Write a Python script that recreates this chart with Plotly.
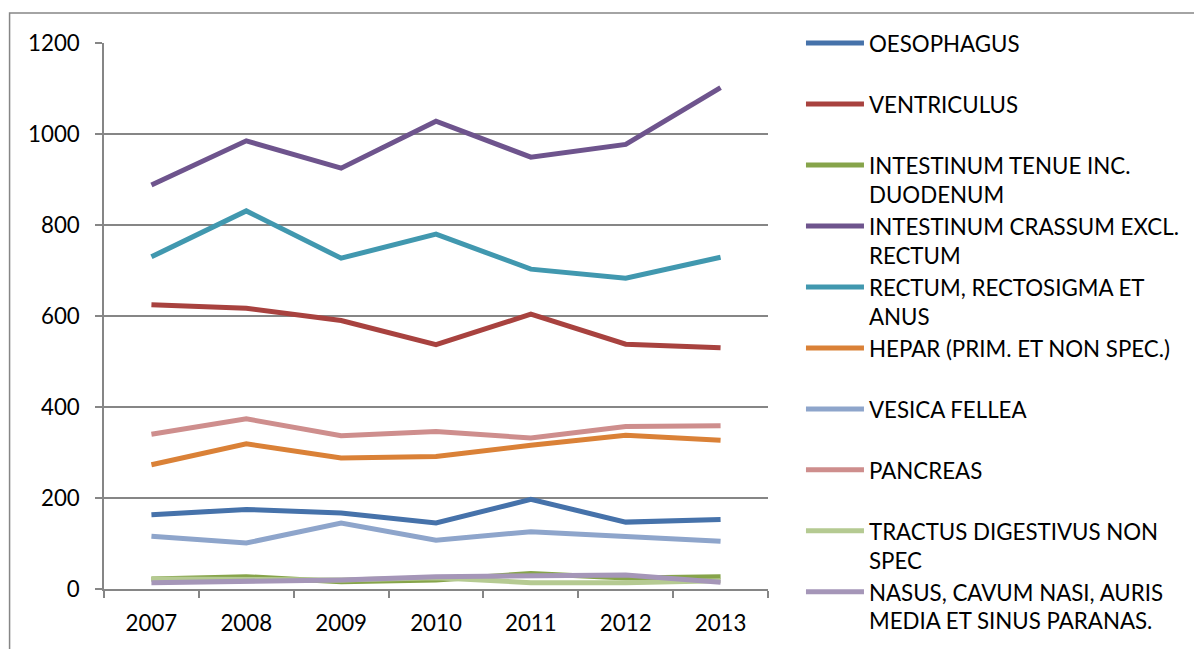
import plotly.graph_objects as go

years = ["2007", "2008", "2009", "2010", "2011", "2012", "2013"]

series_names = [
    "OESOPHAGUS",
    "VENTRICULUS",
    "INTESTINUM TENUE INC.<br>DUODENUM",
    "INTESTINUM CRASSUM EXCL.<br>RECTUM",
    "RECTUM, RECTOSIGMA ET<br>ANUS",
    "HEPAR (PRIM. ET NON SPEC.)",
    "VESICA FELLEA",
    "PANCREAS",
    "TRACTUS DIGESTIVUS NON<br>SPEC",
    "NASUS, CAVUM NASI, AURIS<br>MEDIA ET SINUS PARANAS.",
]

oesophagus = [163, 175, 167, 145, 197, 147, 153]
ventriculus = [625, 617, 590, 537, 604, 538, 530]
intestinum_tenue = [22, 27, 16, 20, 34, 24, 27]
intestinum_crassum = [888, 985, 925, 1028, 949, 977, 1102]
rectum = [730, 831, 727, 780, 703, 683, 729]
hepar = [273, 319, 288, 291, 316, 338, 327]
vesica_fellea = [116, 101, 145, 107, 126, 116, 105]
pancreas = [340, 374, 337, 346, 332, 357, 359]
tractus = [22, 22, 20, 25, 14, 14, 18]
nasus = [14, 16, 20, 27, 28, 31, 15]

values = [oesophagus, ventriculus, intestinum_tenue, intestinum_crassum, rectum,
          hepar, vesica_fellea, pancreas, tractus, nasus]

colors = ["#4672AA", "#A8423F", "#86A44A", "#6E548D", "#4198AF",
          "#DA8137", "#8EA5CB", "#CE8E8D", "#B5CA92", "#A596B8"]

FONT = "Lato"
FS = 22.3

fig = go.Figure()
for name, vals, col in zip(series_names, values, colors):
    label = name if "<br>" in name else name + "<br> "
    fig.add_trace(go.Scatter(
        x=years, y=vals, mode="lines", name=label,
        line=dict(color=col, width=5),
    ))

# page has an 8px body margin: work in page pixels, convert to figure pixels
OFF = 8
W, H = 1202 - OFF, 649 - OFF
L, R, T, B = 103.5 - OFF, 768 - OFF, 43 - OFF, 589 - OFF
pw, ph = R - L, B - T

fig.update_layout(
    width=W, height=H,
    margin=dict(l=L, r=W - R, t=T, b=H - B, pad=0),
    paper_bgcolor="white", plot_bgcolor="white",
    font=dict(family=FONT, size=FS, color="#000000"),
    showlegend=True,
    legend=dict(
        x=(801 - OFF - L) / pw, xanchor="left",
        y=1 + (T - (22 - OFF)) / ph, yanchor="top",
        font=dict(family=FONT, size=FS, color="#000000"),
        valign="top",
        itemwidth=58,
        tracegroupgap=0,
        maxheight=H,
        bgcolor="rgba(0,0,0,0)",
    ),
    xaxis=dict(
        type="category",
        range=[-0.5, 6.5],
        showline=True, linecolor="#868686", linewidth=1.5,
        ticks="outside", ticklen=7, tickcolor="#868686", tickwidth=1.5,
        tickson="boundaries",
        showgrid=False, zeroline=False,
        tickfont=dict(family=FONT, size=FS),
        ticklabelstandoff=13,
    ),
    yaxis=dict(
        range=[0, 1200], dtick=200,
        showline=True, linecolor="#868686", linewidth=1.5,
        ticks="outside", ticklen=7, tickcolor="#868686", tickwidth=1.5,
        showgrid=True, gridcolor="#868686", gridwidth=1.5,
        zeroline=False,
        tickfont=dict(family=FONT, size=FS),
        ticklabelstandoff=11,
    ),
    shapes=[dict(
        type="rect", xref="paper", yref="paper",
        x0=(9 - OFF - L) / pw, x1=(W + 20 - L) / pw,
        y0=-(H - B + 20) / ph, y1=1 + (T - (13 - OFF)) / ph,
        line=dict(color="#868686", width=1.5),
        fillcolor="rgba(0,0,0,0)", layer="below",
    )],
)

fig.write_html("out.html")
